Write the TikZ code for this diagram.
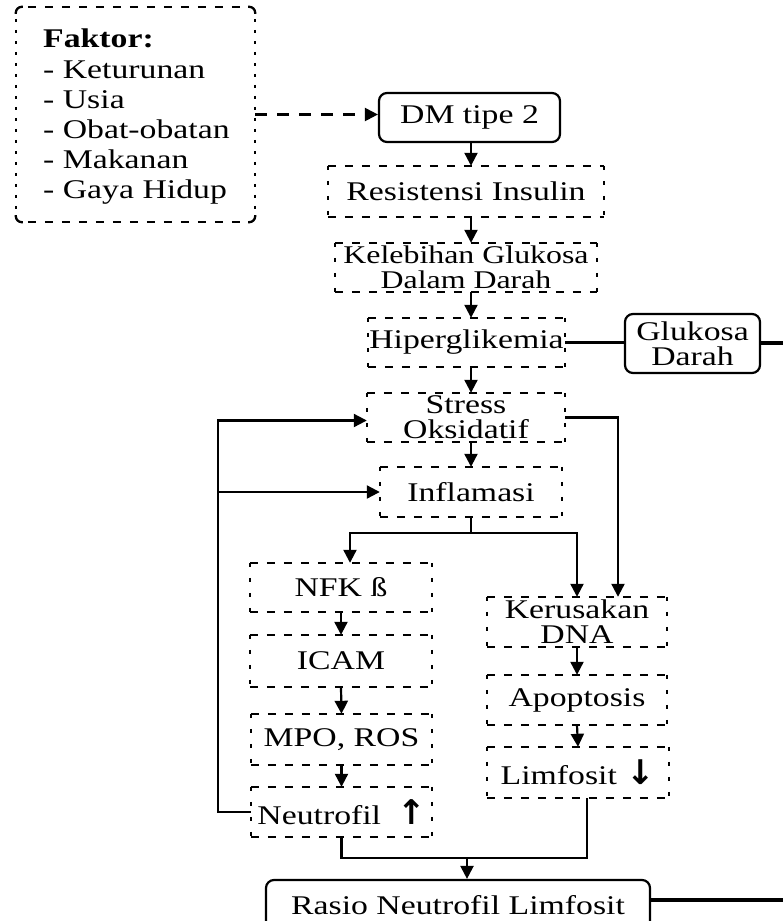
\documentclass[tikz,border=0pt]{standalone}
\usepackage{fontspec}
\setmainfont{Liberation Serif}[FakeStretch=1.25]
\newfontfamily\arrowfont{DejaVu Sans}
\usetikzlibrary{arrows.meta,calc}
\newcommand\dotbox[1]{%
  \draw[hd] (#1.north west) -- (#1.north east) (#1.south west) -- (#1.south east);
  \draw[vd] (#1.north west) -- (#1.south west) (#1.north east) -- (#1.south east);}
\newcommand\bigarrow[1]{{\arrowfont\bfseries\fontsize{34}{34}\selectfont #1}}
\begin{document}
\begin{tikzpicture}[x=1pt,y=-1pt,
  hd/.style={line width=2.3pt, dash pattern=on 8pt off 9pt},
  vd/.style={line width=2.3pt, dash pattern=on 4pt off 11pt},
  vdf/.style={line width=2.3pt, dash pattern=on 3pt off 8pt},
  lbl/.style={font=\fontsize{27}{25}\selectfont, align=center, inner sep=0pt},
  dbx/.style={lbl, minimum width=#1},
  sbox/.style={lbl, draw, line width=2.2pt, rounded corners=8pt},
  arr/.style={line width=2.2pt, -{Triangle[length=13pt,width=13pt]}},
  ln/.style={line width=2.2pt},
  thk/.style={line width=4.5pt},
  dasharr/.style={arr, dash pattern=on 12pt off 10pt}]
\useasboundingbox (0,0) rectangle (783,921);
\clip (0,0) rectangle (783,921);

% Faktor box
\node[minimum width=239pt, minimum height=215pt, inner sep=0pt] (faktor) at (135.5,114.5) {};
\draw[hd] ($(faktor.north west)+(12,0)$) -- ($(faktor.north east)+(-12,0)$)
          ($(faktor.south west)+(12,0)$) -- ($(faktor.south east)+(-12,0)$);
\draw[vdf] ($(faktor.north west)+(0,12)$) -- ($(faktor.south west)+(0,-12)$)
           ($(faktor.north east)+(0,12)$) -- ($(faktor.south east)+(0,-12)$);
\draw[line width=2.3pt, rounded corners=6pt]
  ($(faktor.north west)+(0,7)$) -- (faktor.north west) -- ($(faktor.north west)+(7,0)$)
  ($(faktor.north east)+(-7,0)$) -- (faktor.north east) -- ($(faktor.north east)+(0,7)$)
  ($(faktor.south east)+(0,-7)$) -- (faktor.south east) -- ($(faktor.south east)+(-7,0)$)
  ($(faktor.south west)+(7,0)$) -- (faktor.south west) -- ($(faktor.south west)+(0,-7)$);
\node[anchor=west, align=left, inner sep=0pt, font=\fontsize{27}{30.2}\selectfont] (ftxt) at (43,117)
  {\textbf{Faktor:}\\- Keturunan\\- Usia\\- Obat-obatan\\- Makanan\\- Gaya Hidup};

% main column
\node[sbox, minimum width=181pt, minimum height=49pt] (dm) at (469.5,117.5) {DM tipe 2};
\node[dbx=276pt, minimum height=51pt] (res) at (466,191.5) {Resistensi Insulin};
\node[dbx=262pt, minimum height=49pt, font=\fontsize{25.5}{24.5}\selectfont] (kel) at (466,267.5) {Kelebihan Glukosa\\Dalam Darah};
\node[dbx=197pt, minimum height=49pt] (hip) at (466.5,342.5) {Hiperglikemia};
\node[sbox, minimum width=135pt, minimum height=59pt] (glu) at (692.5,343.5) {Glukosa\\Darah};
\node[dbx=198pt, minimum height=49pt] (str) at (466,417.5) {Stress\\Oksidatif};
\node[dbx=182pt, minimum height=50pt] (inf) at (471,492) {Inflamasi};

% left column
\node[dbx=182pt, minimum height=49pt] (nfk) at (341,587.5) {NFK ß};
\node[dbx=182pt, minimum height=52pt] (icam) at (341,661) {ICAM};
\node[dbx=181pt, minimum height=51pt] (mpo) at (341.5,739.5) {MPO, ROS};
\node[dbx=181pt, minimum height=50pt] (neu) at (341.5,812) {Neutrofil\hspace{16pt}\bigarrow{↑}};

% right column
\node[dbx=180pt, minimum height=50pt] (ker) at (577,622) {Kerusakan\\DNA};
\node[dbx=180pt, minimum height=50pt] (apo) at (577,700) {Apoptosis};
\node[dbx=182pt, minimum height=51pt] (lim) at (578,772.5) {Limfosit\hspace{10pt}\bigarrow{↓}};

% bottom
\node[sbox, minimum width=384pt, minimum height=50pt] (ras) at (458,905) {Rasio Neutrofil Limfosit};

\foreach \n in {res,kel,hip,str,inf,nfk,icam,mpo,neu,ker,apo,lim} {\dotbox{\n}}

% connectors
\draw[dasharr] (faktor.east) -- (faktor.east -| dm.west);
\coordinate (mx) at (471,0);
\draw[arr] (dm.south -| mx) -- (res.north -| mx);
\draw[arr] (res.south -| mx) -- (kel.north -| mx);
\draw[arr] (kel.south -| mx) -- (hip.north -| mx);
\draw[arr] (hip.south -| mx) -- (str.north -| mx);
\draw[arr] (str.south -| mx) -- (inf.north -| mx);
\draw[ln] (hip.east) -- (hip.east -| glu.west);
\coordinate (gluend) at (783,343);
\draw[thk] (glu.east |- gluend) -- (gluend);

% feedback loop
\coordinate (fbx) at (218,0);
\draw[arr] (neu.west) -- (neu.west -| fbx) |- ($(str.west)+(0,3)$);
\draw[arr] (fbx |- inf.west) -- (inf.west);

% stress to DNA damage
\draw[arr] (str.east) -| ($(ker.north)+(41,0)$);

% inflamasi split
\coordinate (split) at ($(inf.south)+(0,16)$);
\draw[ln] (inf.south) -- (split);
\draw[arr] (split) -| ($(nfk.north)+(9,0)$);
\draw[arr] (split) -| (ker.north);

% left chain
\draw[arr] (nfk.south) -- (icam.north);
\draw[arr] (icam.south) -- (mpo.north);
\draw[arr] (mpo.south) -- (neu.north);
% right chain
\draw[arr] (ker.south) -- (apo.north);
\draw[arr] (apo.south) -- (lim.north);

% merge to ratio
\coordinate (mid) at (467,858);
\draw[ln] (neu.south) |- (mid);
\draw[ln] ($(lim.south)+(9,0)$) |- (mid);
\draw[arr] (mid) -- (mid |- ras.north);
\coordinate (rasend) at (783,900);
\draw[thk] (ras.east |- rasend) -- (rasend);
\end{tikzpicture}
\end{document}
